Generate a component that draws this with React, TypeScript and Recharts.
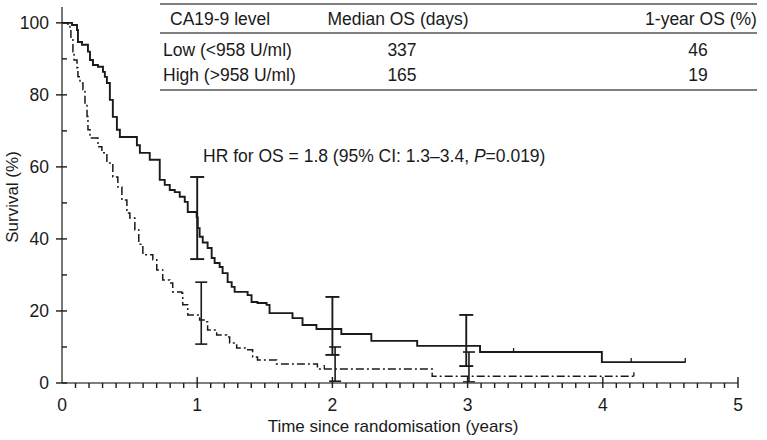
import React from 'react';
import { ComposedChart, Line, Scatter, ErrorBar, XAxis, YAxis } from 'recharts';

// Kaplan-Meier steps (time in years, survival %)
const lowTime = [0, 0.074, 0.111, 0.118, 0.148, 0.192, 0.207, 0.229, 0.266, 0.303, 0.317, 0.332, 0.354, 0.376, 0.406, 0.428, 0.554, 0.576, 0.649, 0.723, 0.76, 0.797, 0.834, 0.871, 0.908, 0.93, 0.996, 1.004, 1.018, 1.041, 1.077, 1.107, 1.129, 1.166, 1.188, 1.225, 1.255, 1.277, 1.373, 1.402, 1.446, 1.513, 1.535, 1.705, 1.779, 1.882, 2.066, 2.288, 2.627, 3.092, 3.993, 4.613];
const lowSurv = [100, 99.4, 98, 94.7, 93.9, 92, 89.7, 88.3, 87.8, 86.4, 85, 83.3, 78.6, 73.9, 70.3, 68.3, 66, 63.9, 62, 56.4, 55, 53.6, 53, 51.7, 50.3, 47.5, 46, 43, 40.6, 39, 37.5, 34.7, 33.3, 32.2, 30.5, 28, 26.7, 25.3, 24.4, 22.5, 22.2, 21.7, 19.4, 18, 16.1, 15, 13.6, 11.7, 10.3, 8.6, 5.8, 5.8];

const highTime = [0, 0.044, 0.059, 0.066, 0.081, 0.089, 0.111, 0.118, 0.133, 0.155, 0.17, 0.185, 0.192, 0.207, 0.266, 0.295, 0.332, 0.376, 0.413, 0.443, 0.48, 0.502, 0.539, 0.568, 0.598, 0.672, 0.701, 0.745, 0.797, 0.819, 0.886, 0.893, 0.93, 1.018, 1.07, 1.077, 1.144, 1.218, 1.24, 1.292, 1.365, 1.41, 1.446, 1.587, 1.889, 2.738, 4.23];
const highSurv = [100, 99.4, 98.6, 96, 92, 89.7, 87.5, 85, 83.3, 81.4, 77.5, 74, 70.3, 68, 65.6, 63.9, 61.1, 57.2, 54.4, 50.8, 47.2, 45.8, 42.5, 38.5, 35.6, 34.2, 31.4, 28.6, 27.8, 25.3, 25, 21.7, 18.9, 17.5, 17, 14.7, 13.3, 12.8, 11.1, 9.7, 9.2, 7.2, 6.4, 5.3, 3.9, 1.9, 1.9];

// censored observations
const lowCensorTime = [3.34, 4.21, 4.61];
const lowCensorSurv = [8.6, 5.8, 5.8];
const highCensorTime = [1.94, 4.23];
const highCensorSurv = [3.9, 1.9];

// survival estimates with 95% CI at 1, 2, 3 years
const lowCiTime = [1.0, 2.0, 2.99];
const lowCiMid = [46, 15, 10.3];
const lowCiLower = [34.4, 7.8, 4.7];
const lowCiUpper = [57.2, 23.9, 18.9];
const highCiTime = [1.03, 2.02, 3.01];
const highCiMid = [19, 3.9, 2.2];
const highCiLower = [10.8, 0.5, 0.3];
const highCiUpper = [28, 10, 8.6];

const xTicks = [0, 0.1, 0.2, 0.3, 0.4, 0.5, 0.6, 0.7, 0.8, 0.9, 1, 1.1, 1.2, 1.3, 1.4, 1.5, 1.6, 1.7, 1.8, 1.9, 2, 2.1, 2.2, 2.3, 2.4, 2.5, 2.6, 2.7, 2.8, 2.9, 3, 3.1, 3.2, 3.3, 3.4, 3.5, 3.6, 3.7, 3.8, 3.9, 4, 4.1, 4.2, 4.3, 4.4, 4.5, 4.6, 4.7, 4.8, 4.9, 5];
const yTicks = [0, 10, 20, 30, 40, 50, 60, 70, 80, 90, 100];

const tableHeader = ['CA19-9 level', 'Median OS (days)', '1-year OS (%)'];
const tableGroups = ['Low (<958 U/ml)', 'High (>958 U/ml)'];
const tableMedian = ['337', '165'];
const tableOneYear = ['46', '19'];

const FONT = '"Liberation Sans", Arial, Helvetica, sans-serif';
const INK = '#1a1a1a';
const TXT = 17.5;

const lowData = lowTime.map((t, i) => ({ t, s: lowSurv[i] }));
const highData = highTime.map((t, i) => ({ t, s: highSurv[i] }));
const lowCensor = lowCensorTime.map((t, i) => ({ t, s: lowCensorSurv[i] }));
const highCensor = highCensorTime.map((t, i) => ({ t, s: highCensorSurv[i] }));
const lowCi = lowCiTime.map((t, i) => ({ t, s: lowCiMid[i], err: [lowCiMid[i] - lowCiLower[i], lowCiUpper[i] - lowCiMid[i]] }));
const highCi = highCiTime.map((t, i) => ({ t, s: highCiMid[i], err: [highCiMid[i] - highCiLower[i], highCiUpper[i] - highCiMid[i]] }));

const YTick = (props: any) => {
  const { x, y, payload } = props;
  const major = payload.value % 20 === 0;
  return (
    <g>
      <line x1={major ? x - 6 : x} x2={x + 5} y1={y} y2={y} stroke={INK} strokeWidth={1.4} />
      {major && (
        <text x={x - 13} y={y} dy="0.36em" textAnchor="end" fontSize={17.5} fill={INK} fontFamily={FONT}>
          {payload.value}
        </text>
      )}
    </g>
  );
};

const XTick = (props: any) => {
  const { x, y, payload } = props;
  const v = payload.value;
  const major = Math.abs(v - Math.round(v)) < 1e-6;
  return (
    <g>
      {v !== 0 && <line x1={x} x2={x} y1={major ? y - 6 : y} y2={y + 5} stroke={INK} strokeWidth={1.4} />}
      {major && (
        <text x={x} y={y + 22} dy="0.36em" textAnchor="middle" fontSize={17.5} fill={INK} fontFamily={FONT}>
          {v}
        </text>
      )}
    </g>
  );
};

const CensorMark = (props: any) => {
  const { cx, cy } = props;
  return <line x1={cx} x2={cx} y1={cy - 4} y2={cy} stroke={INK} strokeWidth={1.3} />;
};

const Nothing = () => <g />;

export default function App() {
  const left = 160;
  const right = 757;
  return (
    <div style={{ position: 'absolute', left: 0, top: 0, width: 767, height: 440, background: '#fff', fontFamily: FONT }}>
      <ComposedChart width={767} height={440} margin={{ top: 7, right: 29, bottom: 0, left: 0 }}>
        <XAxis
          dataKey="t"
          type="number"
          domain={[0, 5]}
          ticks={xTicks}
          interval={0}
          tickSize={0}
          tickMargin={0}
          tick={<XTick />}
          height={57}
          axisLine={{ stroke: '#555', strokeWidth: 1.6 }}
          allowDataOverflow
        />
        <YAxis
          dataKey="s"
          type="number"
          domain={[0, 104.4]}
          ticks={yTicks}
          interval={0}
          tickSize={0}
          tickMargin={0}
          tick={<YTick />}
          width={62}
          axisLine={{ stroke: '#555', strokeWidth: 1.6 }}
          allowDataOverflow
        />
        <Line data={lowData} dataKey="s" type="stepAfter" stroke={INK} strokeWidth={1.9} dot={false} isAnimationActive={false} />
        <Line data={highData} dataKey="s" type="stepAfter" stroke={INK} strokeWidth={1.5} strokeDasharray="8 3 2 3" dot={false} isAnimationActive={false} />
        <Scatter data={lowCensor} dataKey="s" shape={<CensorMark />} isAnimationActive={false} />
        <Scatter data={highCensor} dataKey="s" shape={<CensorMark />} isAnimationActive={false} />
        <Scatter data={lowCi} dataKey="s" shape={<Nothing />} isAnimationActive={false}>
          <ErrorBar dataKey="err" direction="y" width={7} stroke={INK} strokeWidth={1.9} />
        </Scatter>
        <Scatter data={highCi} dataKey="s" shape={<Nothing />} isAnimationActive={false}>
          <ErrorBar dataKey="err" direction="y" width={6} stroke={INK} strokeWidth={1.6} />
        </Scatter>
      </ComposedChart>

      <svg width={767} height={440} style={{ position: 'absolute', left: 0, top: 0, pointerEvents: 'none' }}>
        <g fontFamily={FONT} fontSize={TXT} fill={INK}>
          <line x1={left} x2={right} y1={4} y2={4} stroke="#555" strokeWidth={1.6} />
          <line x1={left} x2={right} y1={33} y2={33} stroke="#555" strokeWidth={1.3} />
          <line x1={left} x2={right} y1={90} y2={90} stroke="#555" strokeWidth={1.6} />
          <text x={170} y={19} dy="0.36em">{tableHeader[0]}</text>
          <text x={398} y={19} dy="0.36em" textAnchor="middle">{tableHeader[1]}</text>
          <text x={701} y={19} dy="0.36em" textAnchor="middle">{tableHeader[2]}</text>
          {tableGroups.map((g, i) => (
            <g key={g}>
              <text x={163} y={50 + i * 25} dy="0.36em">{g}</text>
              <text x={402} y={50 + i * 25} dy="0.36em" textAnchor="middle">{tableMedian[i]}</text>
              <text x={698} y={50 + i * 25} dy="0.36em" textAnchor="middle">{tableOneYear[i]}</text>
            </g>
          ))}
          <text x={203} y={156} dy="0.36em">
            HR for OS = 1.8 (95% CI: 1.3{'\u2013'}3.4, <tspan fontStyle="italic">P</tspan>=0.019)
          </text>
          <text x={393} y={426} dy="0.36em" textAnchor="middle" fontSize={17}>Time since randomisation (years)</text>
          <text x={0} y={0} dy="0.36em" textAnchor="middle" fontSize={17} transform="translate(12,197) rotate(-90)">Survival (%)</text>
        </g>
      </svg>
    </div>
  );
}
